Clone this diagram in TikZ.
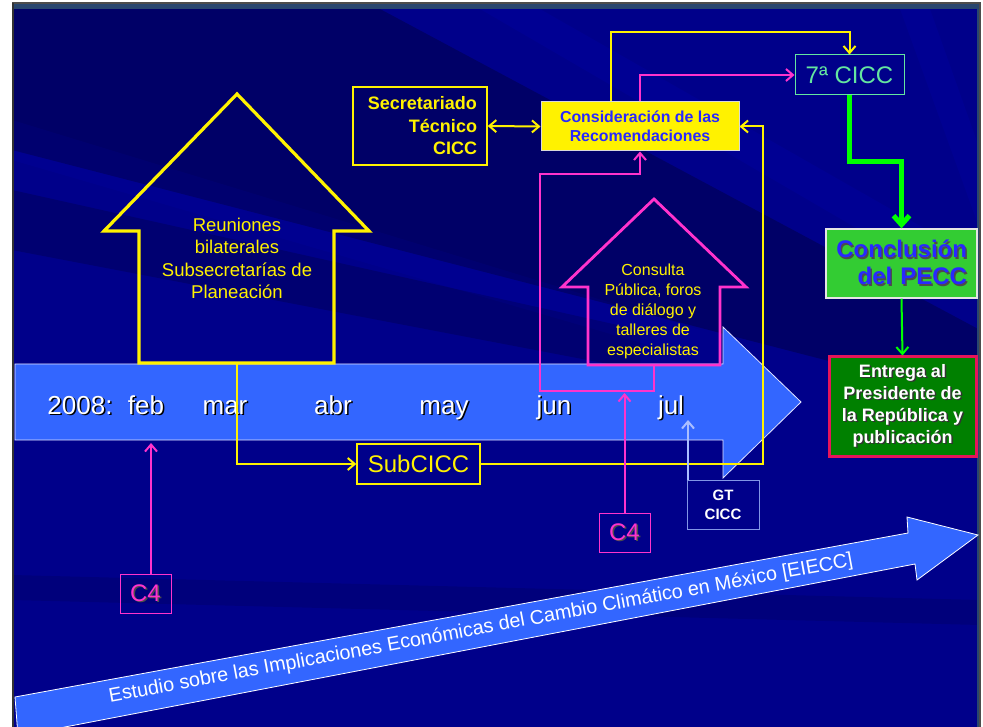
\documentclass[tikz,border=0pt]{standalone}
\usepackage{fontspec}
\setmainfont{Liberation Sans}
\usetikzlibrary{arrows.meta,calc}
\definecolor{navyb}{RGB}{0,0,138}
\definecolor{slate}{RGB}{40,70,110}
\definecolor{tlblue}{RGB}{51,102,255}
\definecolor{pinkc}{RGB}{255,51,204}
\definecolor{consblue}{RGB}{40,40,255}
\definecolor{cgreen}{RGB}{100,230,160}
\definecolor{lime}{RGB}{0,255,0}
\definecolor{conclgreen}{RGB}{51,204,51}
\definecolor{dkgreen}{RGB}{0,128,0}
\definecolor{crimsonc}{RGB}{230,20,90}
\definecolor{gtblue}{RGB}{130,150,230}
\definecolor{gtarrow}{RGB}{170,190,255}
\newcommand{\shd}[2][black]{\leavevmode\rlap{\kern1.5pt\raisebox{-1.5pt}{\color{#1}#2}}#2}
\newcommand{\fsz}[2]{\fontsize{#1}{#2}\selectfont}
\tikzset{
  ylw/.style={draw=yellow, line width=2pt},
  pk/.style={draw=pinkc, line width=2pt},
  arr/.style={-{Straight Barb[length=7pt,width=12pt]}},
  barr/.style={{Straight Barb[length=7pt,width=12pt]}-{Straight Barb[length=7pt,width=12pt]}},
  bigarr/.style={-{Straight Barb[length=9pt,width=16pt]}},
  month/.style={text=white, font=\fsz{26}{30}, anchor=base, inner sep=0pt},
  recbox/.style={rectangle, inner sep=0pt, align=center},
}
\begin{document}
\begin{tikzpicture}[x=1pt,y=-1pt]
\useasboundingbox (0,0) rectangle (983,727);
\fill[white] (0,0) rectangle (983,727);
% slide background
\fill[navyb] (12,3) rectangle (980,730);
\begin{scope}
\clip (12,3) rectangle (980,727);
\fill[black,opacity=.25] (12,9) -- (380,9) -- (980,330) -- (980,400) -- (12,150) -- cycle;
\fill[black,opacity=.18] (12,190) -- (12,250) -- (640,370) -- (640,330) -- cycle;
\fill[blue,opacity=.06] (12,120) -- (12,160) -- (700,360) -- (700,330) -- cycle;
\fill[blue,opacity=.08] (480,9) -- (540,9) -- (980,260) -- (980,300) -- cycle;
\fill[blue,opacity=.07] (900,9) -- (930,9) -- (980,150) -- (980,230) -- cycle;
\fill[black,opacity=.10] (12,575) -- (980,600) -- (980,625) -- (12,600) -- cycle;
\end{scope}
\fill[slate] (12,3) rectangle (980,9);
\fill[slate] (977,3) rectangle (980,727);
\draw[gray!60!black, line width=1.5pt] (12,3) -- (980,3) -- (980,727);
\draw[black!80, line width=2.5pt] (13,3) -- (13,727);

\begin{scope}
\clip (12,3) rectangle (980,727);
% timeline arrow
\draw[fill=tlblue, draw=white!90!blue, line width=0.8pt]
  (15,364) -- (723,364) -- (723,327) -- (801,402) -- (723,478) -- (723,440) -- (15,440) -- cycle;
% EIECC arrow
\draw[fill=tlblue, draw=white, line width=0.8pt]
  (15,697) -- (908,533) -- (907,517) -- (978,535) -- (917,580) -- (915,564) -- (18,736) -- cycle;
\end{scope}

\node[text=white, font=\fsz{19.8}{24}, rotate=10.4, inner sep=0pt] (eiecc) at (481,629)
  {Estudio sobre las Implicaciones Económicas del Cambio Climático en México [EIECC]};

% months
\node[month] (y2008) at (80,414) {\shd{2008:}};
\node[month] (feb) at (146,414) {\shd{feb}};
\node[month] (mar) at (225,414) {\shd{mar}};
\node[month] (abr) at (333,414) {\shd{abr}};
\node[month] (may) at (444,414) {\shd{may}};
\node[month] (jun) at (554,414) {\shd{jun}};
\node[month] (jul) at (671,414) {\shd{jul}};

% Reuniones arrow
\draw[yellow, line width=3.2pt, line join=miter]
  (237,94) -- (369,231) -- (334,231) -- (334,363) -- (139,363) -- (139,231) -- (104,231) -- cycle;
\node[text=yellow, font=\fsz{18.5}{22.4}, align=center] (reun) at (237,258.5)
  {Reuniones\\bilaterales\\Subsecretarías de\\Planeación};
\coordinate (reunbot) at (237,363);

% Consulta arrow
\draw[pinkc, line width=2.8pt, line join=miter]
  (654,199) -- (746,287) -- (720,287) -- (720,365) -- (588,365) -- (588,287) -- (562,287) -- cycle;
\node[text=yellow, font=\fsz{16}{20}, align=center] (cons2) at (653,311.5)
  {Consulta\\Pública, foros\\de diálogo y\\talleres de\\especialistas};
\coordinate (consbot) at (654,365);

% boxes
\node[recbox, draw=yellow, line width=1.5pt, minimum width=134, minimum height=78,
  text width=114, align=right, text=yellow, font=\bfseries\fsz{18}{22.5}] (sec) at (420,126)
  {Secretariado\\Técnico\\CICC};
\node[recbox, fill=yellow, draw=white!85!black, line width=1pt, minimum width=198,
  minimum height=49, text=consblue, font=\bfseries\fsz{15.9}{19}] (cons) at (640,126.5)
  {Consideración de las\\Recomendaciones};
\node[recbox, draw=cgreen, line width=1pt, minimum width=109, minimum height=40,
  text=cgreen, font=\fsz{24}{28}] (c7) at (849.5,75) {7ª CICC};
\node[recbox, fill=conclgreen, draw=white!80!gray, line width=1.2pt, minimum width=151,
  minimum height=69, text width=131, align=right, text=consblue, font=\bfseries\fsz{24}{27}] (concl) at (901.5,263.5)
  {\shd[black!70]{Conclusión}\\\shd[black!70]{del PECC}};
\node[recbox, fill=dkgreen, draw=crimsonc, line width=3pt, minimum width=147,
  minimum height=99, text=white, font=\bfseries\fsz{18}{22}] (entr) at (902.5,406.5)
  {\shd[black!80]{Entrega al}\\\shd[black!80]{Presidente de}\\\shd[black!80]{la República y}\\\shd[black!80]{publicación}};
\node[recbox, draw=yellow, line width=1.5pt, minimum width=123, minimum height=40,
  text=yellow, font=\fsz{24}{28}] (subc) at (418.5,464) {SubCICC};
\node[recbox, draw=pinkc, line width=1pt, minimum width=51, minimum height=39,
  text=pinkc, font=\fsz{24}{28}] (c4a) at (145.5,593.5) {\shd[black!70]{C4}};
\node[recbox, draw=pinkc, line width=1pt, minimum width=51, minimum height=39,
  text=pinkc, font=\fsz{24}{28}] (c4b) at (624.5,532.5) {\shd[black!70]{C4}};
\node[recbox, draw=gtblue, line width=1pt, minimum width=72, minimum height=49,
  text=white, font=\bfseries\fsz{15}{19}] (gt) at (723,504.5) {GT\\CICC};

% connectors
\coordinate (c1) at (763,464);
\draw[ylw, arr] (reunbot) |- (subc.west);
\draw[ylw, arr] (subc.east) -- (c1) |- (cons.east);
\draw[ylw, barr] (sec.east) -- (cons.west);
\coordinate (y1) at (611,32);
\draw[ylw, arr] (cons.north -| y1) -- (y1) -| (c7.north);
\draw[pk, arr] (cons.north) |- (c7.west);
\coordinate (p1) at (540,391);
\coordinate (p2) at (540,174);
\draw[pk, arr] (consbot) |- (p1) -- (p2) -| (cons.south);
\coordinate (c4btip) at (624.5,393);
\draw[pk, arr] (c4b.north) -- (c4btip);
\coordinate (c4atip) at (151,443);
\draw[pk, arr] (c4a.north -| c4atip) -- (c4atip);
\coordinate (gttip) at (688,420);
\draw[draw=gtarrow, line width=2pt, arr] (gt.north -| gttip) -- (gttip);
\coordinate (g1) at (875,162);
\draw[draw=lime, line width=5pt, bigarr] (c7.south) |- (g1) -| (concl.north);
\draw[draw=lime, line width=2pt, arr] (concl.south) -- (entr.north);
\end{tikzpicture}
\end{document}
